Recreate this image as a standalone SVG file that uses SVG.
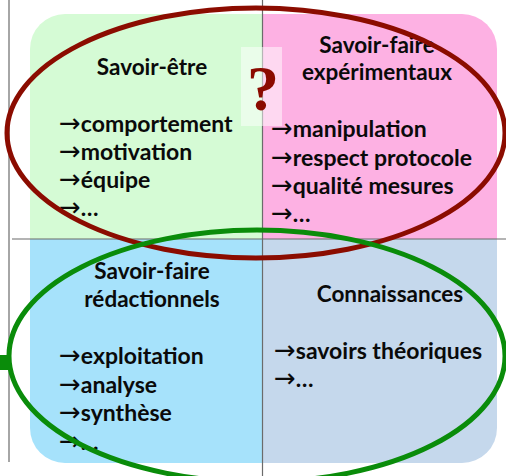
<svg xmlns="http://www.w3.org/2000/svg" width="506" height="476" viewBox="0 0 506 476">
<defs>
<clipPath id="rr"><rect x="30" y="14" width="467" height="449" rx="35" ry="35"/></clipPath>
<style>
.t{font-family:Lato,"Open Sans","Liberation Sans",sans-serif;font-weight:bold;font-size:23px;fill:#0a0a0a;}
.h{text-anchor:middle;font-size:22.5px;}
.a{font-family:"DejaVu Sans",sans-serif;font-weight:normal;font-size:26px;}
.ax{stroke:#6b6b6b;stroke-width:1.2;fill:none;}
.ell{fill:none;stroke-width:5;}
</style>
</defs>
<rect width="506" height="476" fill="#fff"/>
<g clip-path="url(#rr)">
<g id="savoir-etre"><rect x="30" y="14" width="232" height="225" fill="#d5fbd5"/></g>
<g id="savoir-faire-experimentaux"><rect x="262" y="14" width="235" height="225" fill="#fdb1e3"/></g>
<g id="savoir-faire-redactionnels"><rect x="30" y="239" width="232" height="224" fill="#a6e2fb"/></g>
<g id="connaissances"><rect x="262" y="239" width="235" height="224" fill="#c5d8ec"/></g>
</g>
<line class="ax" x1="262.5" y1="0" x2="262.5" y2="476"/>
<line class="ax" x1="12" y1="239" x2="506" y2="239"/>
<line class="ax" x1="9" y1="0" x2="9" y2="462"/>
<g id="question">
<rect x="241" y="47" width="41" height="79" fill="#fff" fill-opacity="0.5"/>
<text x="263" y="110" text-anchor="middle" font-family="Liberation Serif,serif" font-weight="bold" font-size="64" fill="#8b0a00">?</text>
</g>
<g id="txt-tl">
<text class="t h" x="152" y="75">Savoir-être</text>
<text class="t" x="59" y="132"><tspan class="a">→</tspan>comportement</text>
<text class="t" x="59" y="160"><tspan class="a">→</tspan>motivation</text>
<text class="t" x="59" y="188"><tspan class="a">→</tspan>équipe</text>
<text class="t" x="59" y="216"><tspan class="a">→</tspan>…</text>
</g>
<g id="txt-tr">
<text class="t h" x="377" y="53">Savoir-faire</text>
<text class="t h" x="377" y="80">expérimentaux</text>
<text class="t" x="271" y="137"><tspan class="a">→</tspan>manipulation</text>
<text class="t" x="271" y="166"><tspan class="a">→</tspan>respect protocole</text>
<text class="t" x="271" y="194"><tspan class="a">→</tspan>qualité mesures</text>
<text class="t" x="271" y="222"><tspan class="a">→</tspan>…</text>
</g>
<g id="txt-bl">
<text class="t h" x="152" y="279">Savoir-faire</text>
<text class="t h" x="152" y="307">rédactionnels</text>
<text class="t" x="59" y="364"><tspan class="a">→</tspan>exploitation</text>
<text class="t" x="59" y="393"><tspan class="a">→</tspan>analyse</text>
<text class="t" x="59" y="421"><tspan class="a">→</tspan>synthèse</text>
<text class="t" x="59" y="450"><tspan class="a">→</tspan>…</text>
</g>
<g id="txt-br">
<text class="t h" x="390" y="302">Connaissances</text>
<text class="t" x="274" y="359"><tspan class="a">→</tspan>savoirs théoriques</text>
<text class="t" x="274" y="387"><tspan class="a">→</tspan>…</text>
</g>
<g id="connectors">
<ellipse class="ell" cx="256" cy="133" rx="249" ry="125" stroke="#8b0c00"/>
<ellipse class="ell" cx="257" cy="356" rx="248" ry="126" stroke="#0a8c0a"/>
<rect x="0" y="355" width="10" height="15" fill="#0a8c0a"/>
</g>
</svg>
